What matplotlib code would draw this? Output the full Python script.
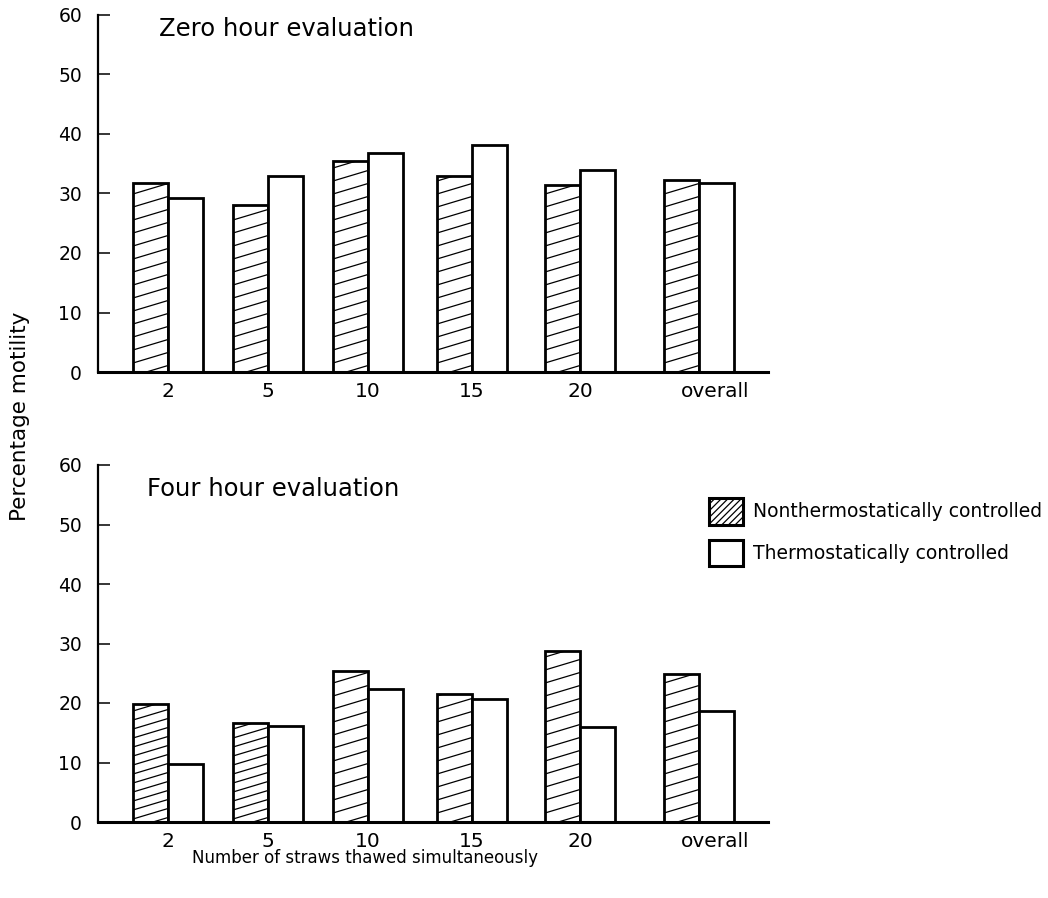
import matplotlib
matplotlib.use("Agg")
import matplotlib.pyplot as plt
from matplotlib.patches import Rectangle
import numpy as np

plt.rcParams['font.family'] = ['DejaVu Sans']
plt.rcParams['hatch.linewidth'] = 0.9

# ---- data ----
categories = ["2", "5", "10", "15", "20", "overall"]
zero_nonthermo = [31.7, 28.1, 35.5, 32.9, 31.4, 32.2]
zero_thermo = [29.3, 32.9, 36.8, 38.2, 33.9, 31.7]
four_nonthermo = [19.8, 16.7, 25.4, 21.5, 28.7, 24.8]
four_thermo = [9.8, 16.1, 22.4, 20.7, 16.0, 18.7]
series_labels = ["Nonthermostatically controlled", "Thermostatically controlled"]
panel_titles = ["Zero hour evaluation", "Four hour evaluation"]
yticks = [0, 10, 20, 30, 40, 50, 60]

# ---- layout / style ----
W, H = 1048, 898
fig = plt.figure(figsize=(W / 100, H / 100), dpi=100)
group_pos = np.array([0, 1, 2, 3.04, 4.12, 5.31])
label_pos = group_pos.copy()
label_pos[-1] += 0.16
bw = 0.35
xlim = (-0.70, 6.0)

ax_top = fig.add_axes([98 / W, 1 - 372 / H, 670 / W, 357 / H])
ax_bot = fig.add_axes([98 / W, 1 - 822 / H, 670 / W, 357 / H])


def hatch_bar(ax, rect, spacing_px, slope_px=0.30):
    x0, w, h = rect.get_x(), rect.get_width(), rect.get_height()
    bb = ax.get_position()
    px_x = bb.width * W / (xlim[1] - xlim[0])
    px_y = bb.height * H / 60.0
    slope = slope_px * px_x / px_y
    sp = spacing_px / px_y
    rise = slope * w
    b = -rise + sp * 0.5
    while b < h:
        ln, = ax.plot([x0, x0 + w], [b, b + rise], color='black', lw=0.9,
                      solid_capstyle='butt', zorder=2.5)
        ln.set_clip_path(rect)
        b += sp


def draw_panel(ax, nonthermo, thermo, title, title_xy, spacings):
    b1 = ax.bar(group_pos - bw / 2, nonthermo, bw, facecolor='white',
                edgecolor='black', linewidth=2.0, zorder=2)
    b2 = ax.bar(group_pos + bw / 2, thermo, bw, facecolor='white',
                edgecolor='black', linewidth=2.0, zorder=2)
    for r, s in zip(b1.patches, spacings):
        hatch_bar(ax, r, s)
    ax.set_xlim(*xlim)
    ax.set_ylim(0, 60)
    ax.set_yticks(yticks)
    ax.set_xticks(label_pos)
    ax.set_xticklabels(categories)
    ax.spines['top'].set_visible(False)
    ax.spines['right'].set_visible(False)
    ax.spines['left'].set_linewidth(1.6)
    ax.spines['bottom'].set_linewidth(2.2)
    ax.spines['bottom'].set_zorder(3)
    ax.tick_params(axis='y', direction='in', length=8.5, width=1.1,
                   pad=11.5, labelsize=13.5)
    ax.tick_params(axis='x', length=0, pad=7, labelsize=14.5)
    ax.text(title_xy[0], title_xy[1], title, transform=fig.transFigure,
            fontsize=17.5, ha='left', va='center')
    return b1, b2


bars_top = draw_panel(ax_top, zero_nonthermo, zero_thermo, panel_titles[0],
                      (159 / W, 1 - 29 / H), [13] * 6)
bars_bot = draw_panel(ax_bot, four_nonthermo, four_thermo, panel_titles[1],
                      (147 / W, 1 - 489 / H), [9, 9, 13, 13, 13, 13])

# legend
h1 = Rectangle((0, 0), 1, 1, facecolor='white', edgecolor='black', lw=2.2,
               hatch='/////')
h2 = Rectangle((0, 0), 1, 1, facecolor='white', edgecolor='black', lw=2.2)
fig.legend([h1, h2], series_labels, loc='upper left',
           bbox_to_anchor=(709 / W, 1 - 498 / H), frameon=False,
           fontsize=13.5, handlelength=1.8, handleheight=1.8,
           handletextpad=0.55, labelspacing=0.8, borderpad=0,
           borderaxespad=0)

fig.text(20 / W, 1 - 416 / H, "Percentage motility", rotation=90,
         fontsize=15.5, ha='center', va='center')
fig.text(365 / W, 1 - 858 / H, "Number of straws thawed simultaneously",
         fontsize=12, ha='center', va='center')

fig.savefig("out.png", dpi=100)
